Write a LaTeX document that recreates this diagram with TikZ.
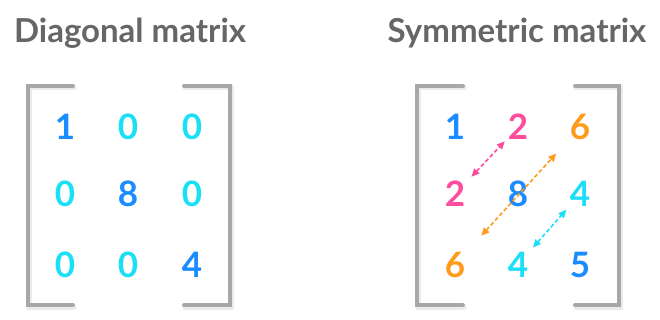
\documentclass[tikz,border=0pt]{standalone}
\usepackage{fontspec}
\setmainfont{Lato}
\usetikzlibrary{calc,arrows.meta}
\definecolor{dblue}{HTML}{1A8CFF}
\definecolor{dcyan}{HTML}{1ADFF7}
\definecolor{dpink}{HTML}{FF4D9E}
\definecolor{dorange}{HTML}{FF9A1A}
\definecolor{tgray}{HTML}{666666}
\definecolor{bgray}{HTML}{A8A8A8}
\tikzset{
  title/.style={font=\fontsize{33}{36}\selectfont\bfseries, text=tgray, anchor=base, inner sep=0pt},
  digit/.style={font=\fontsize{35}{40}\selectfont\bfseries, anchor=base, inner sep=0pt},
  brack/.style={line width=4pt, draw=bgray, line cap=round},
  brshadow/.style={line width=5pt, draw=black, opacity=0.08, line cap=round},
  swap/.style={dashed, dash pattern=on 4pt off 2.5pt, line width=1.6pt, {Triangle[length=8pt,width=7pt]}-{Triangle[length=8pt,width=7pt]}}
}
\begin{document}
\begin{tikzpicture}[x=1pt,y=-1pt]
\useasboundingbox (0,0) rectangle (660,320);
% titles
\node[title] (t1) at (130,43) {Diagonal matrix};
\node[title] (t2) at (517,43) {Symmetric matrix};
% bracket shadows
\foreach \xa/\xb/\xc/\xd in {28/73/184/230, 417/463/575/619}{
  \draw[brshadow] (\xb+1,88) -- (\xa+1,88) -- (\xa+1,307) -- (\xb+1,307);
  \draw[brshadow] (\xc+1,88) -- (\xd+1,88) -- (\xd+1,307) -- (\xc+1,307);
  \draw[brack] (\xb,86) -- (\xa,86) -- (\xa,305) -- (\xb,305);
  \draw[brack] (\xc,86) -- (\xd,86) -- (\xd,305) -- (\xc,305);
}
% diagonal matrix
\node[digit,text=dblue] (d11) at (65,140) {1};
\node[digit,text=dcyan] (d12) at (128,140) {0};
\node[digit,text=dcyan] (d13) at (192,140) {0};
\node[digit,text=dcyan] (d21) at (65,207) {0};
\node[digit,text=dblue] (d22) at (128,207) {8};
\node[digit,text=dcyan] (d23) at (192,207) {0};
\node[digit,text=dcyan] (d31) at (65,277) {0};
\node[digit,text=dcyan] (d32) at (128,277) {0};
\node[digit,text=dblue] (d33) at (192,277) {4};
% symmetric matrix
\node[digit,text=dblue] (s11) at (455,140) {1};
\node[digit,text=dpink] (s12) at (518,140) {2};
\node[digit,text=dorange] (s13) at (580,140) {6};
\node[digit,text=dpink] (s21) at (455,207) {2};
\node[digit,text=dblue] (s22) at (518,207) {8};
\node[digit,text=dcyan] (s23) at (580,207) {4};
\node[digit,text=dorange] (s31) at (455,277) {6};
\node[digit,text=dcyan] (s32) at (518,277) {4};
\node[digit,text=dblue] (s33) at (580,277) {5};
% swap arrows
\draw[swap,dpink] ($(s21)!0.26!(s12)$) -- ($(s21)!0.79!(s12)$);
\draw[swap,dorange] ($(s31)!0.21!(s13)$) -- ($(s31)!0.81!(s13)$);
\draw[swap,dcyan] ($(s32)!0.24!(s23)$) -- ($(s32)!0.78!(s23)$);
\end{tikzpicture}
\end{document}
